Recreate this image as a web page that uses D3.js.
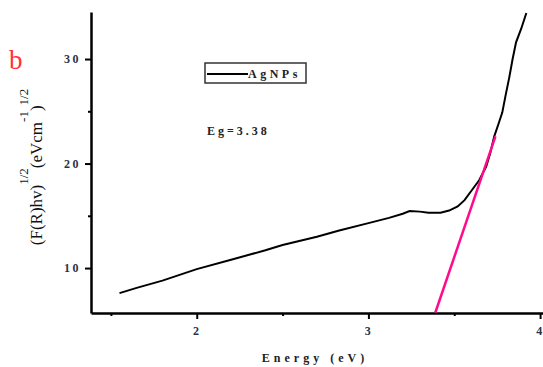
<!DOCTYPE html>
<html>
<head>
<meta charset="utf-8">
<script src="https://cdn.jsdelivr.net/npm/d3@7"></script>
<style>
  body { margin: 0; background: #fff; }
  text { font-family: "Liberation Serif", "DejaVu Serif", serif; }
</style>
</head>
<body>
<div id="chart"></div>
<script>
// measured spectrum (energy in eV, (F(R)hv)^1/2)
var energy = [1.55, 1.65, 1.8, 2.0, 2.2, 2.4, 2.5, 2.7, 2.83, 3.0, 3.12, 3.2, 3.24, 3.3, 3.35, 3.42, 3.47, 3.52, 3.56, 3.6, 3.645, 3.686, 3.71, 3.733, 3.76, 3.78, 3.8, 3.82, 3.84, 3.86, 3.89, 3.92];
var signal = [7.6, 8.1, 8.8, 9.9, 10.8, 11.7, 12.2, 13.0, 13.6, 14.3, 14.8, 15.2, 15.45, 15.4, 15.3, 15.3, 15.5, 15.9, 16.5, 17.4, 18.4, 19.7, 21.0, 22.6, 23.9, 24.9, 26.6, 28.2, 30.0, 31.6, 32.9, 34.4];
// linear fit used for the band gap
var fitE = [3.39, 3.74];
var fitY = [5.75, 22.6];
var xTicks = [2, 3, 4];
var xMinor = [1.5, 2.5, 3.5];
var yTicks = [10, 20, 30];
var yMinor = [15, 25];

function drawChart(){
  var W = 543, H = 367;
  var mLeft = 91, mBottom = 313, mTop = 12, mRight = 543;

  var svg = d3.select("#chart").append("svg")
    .attr("width", W).attr("height", H);

  var x = d3.scaleLinear().domain([1.384, 4.017]).range([mLeft, mRight]);
  var y = d3.scaleLinear().domain([5.7, 34.5]).range([mBottom, mTop]);

  // axes
  var xAxis = svg.append("g").attr("transform", "translate(0," + mBottom + ")")
    .call(d3.axisBottom(x).tickValues(xTicks).tickFormat(d3.format("d")).tickSize(6).tickSizeOuter(0));
  var yAxis = svg.append("g").attr("transform", "translate(" + mLeft + ",0)")
    .call(d3.axisLeft(y).tickValues(yTicks).tickFormat(function(d){ return d; }).tickSize(6).tickSizeOuter(0));

  svg.append("g").attr("transform", "translate(0," + mBottom + ")")
    .call(d3.axisBottom(x).tickValues(xMinor).tickFormat("").tickSize(3).tickSizeOuter(0))
    .select(".domain").remove();
  svg.append("g").attr("transform", "translate(" + mLeft + ",0)")
    .call(d3.axisLeft(y).tickValues(yMinor).tickFormat("").tickSize(3).tickSizeOuter(0))
    .select(".domain").remove();

  svg.selectAll(".domain").attr("stroke", "#000").attr("stroke-width", 2.5);
  svg.selectAll(".tick line").attr("stroke", "#000").attr("stroke-width", 2);
  svg.selectAll(".tick text")
    .style("font-family", "'Liberation Serif', serif")
    .style("font-weight", "bold")
    .style("font-size", "12px")
    .style("letter-spacing", "2.5px")
    .attr("fill", "#2a3148");
  xAxis.selectAll(".tick text").attr("dy", "1.1em");
  yAxis.selectAll(".tick text").attr("x", -10);

  // data curve
  var pts = energy.map(function(e, i){ return [e, signal[i]]; });
  svg.append("path")
    .datum(pts)
    .attr("fill", "none")
    .attr("stroke", "#000")
    .attr("stroke-width", 2)
    .attr("d", d3.line().x(function(d){ return x(d[0]); }).y(function(d){ return y(d[1]); }));

  // fit line
  var fit = fitE.map(function(e, i){ return [e, fitY[i]]; });
  svg.append("path")
    .datum(fit)
    .attr("fill", "none")
    .attr("stroke", "#ff0a8c")
    .attr("stroke-width", 2.5)
    .attr("d", d3.line().x(function(d){ return x(d[0]); }).y(function(d){ return y(d[1]); }));

  // legend
  svg.append("rect")
    .attr("x", 205).attr("y", 63).attr("width", 101).attr("height", 20)
    .attr("fill", "none").attr("stroke", "#333").attr("stroke-width", 1.5);
  svg.append("line")
    .attr("x1", 207).attr("x2", 248).attr("y1", 74).attr("y2", 74)
    .attr("stroke", "#000").attr("stroke-width", 2);
  svg.append("text")
    .attr("x", 248).attr("y", 78)
    .style("font-weight", "bold").style("font-size", "12px").style("letter-spacing", "3.5px")
    .attr("fill", "#222")
    .text("AgNPs");

  svg.append("text")
    .attr("x", 207).attr("y", 135)
    .style("font-weight", "bold").style("font-size", "12px").style("letter-spacing", "3px")
    .attr("fill", "#222")
    .text("Eg=3.38");

  // panel letter
  svg.append("text")
    .attr("x", 9).attr("y", 69)
    .style("font-size", "27px")
    .attr("fill", "#ff3333")
    .text("b");

  // x label
  svg.append("text")
    .attr("x", 315).attr("y", 362)
    .attr("text-anchor", "middle")
    .style("font-weight", "bold").style("font-size", "12px").style("letter-spacing", "4px")
    .attr("fill", "#222")
    .text("Energy (eV)");

  // y label
  var yl = svg.append("text")
    .attr("transform", "translate(42,167) rotate(-90)")
    .attr("text-anchor", "middle")
    .style("font-size", "17px")
    .attr("fill", "#111");
  yl.append("tspan").text("(F(R)hv)");
  yl.append("tspan").attr("dy", -14).style("font-size", "13px").text("1/2");
  yl.append("tspan").attr("dy", 14).text("(eVcm");
  yl.append("tspan").attr("dy", -14).style("font-size", "13px").text("-1");
  yl.append("tspan").attr("dy", 14).text(")");
  yl.append("tspan").attr("dy", -14).style("font-size", "13px").text("1/2");
}
drawChart();
</script>
</body>
</html>
